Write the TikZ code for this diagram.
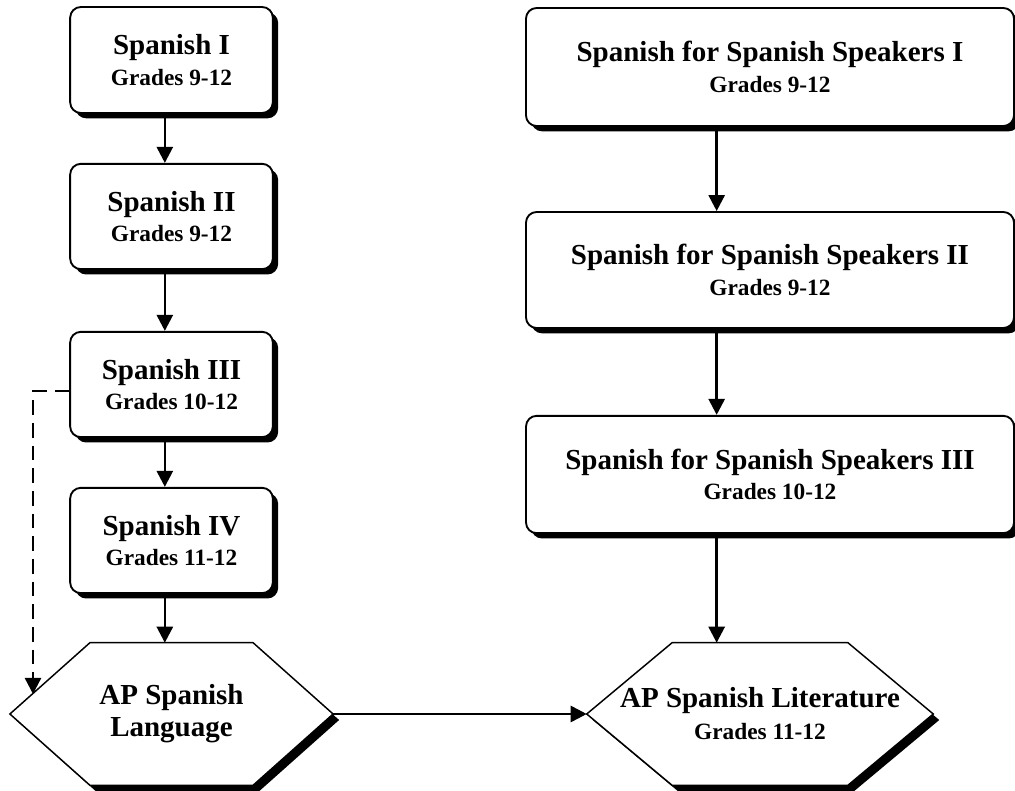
\documentclass[tikz,border=0pt]{standalone}
\usepackage{fontspec}
\setmainfont{Liberation Serif}
\usepackage{tikz}
\usetikzlibrary{arrows.meta}
\usetikzlibrary{shadows}
\usetikzlibrary{backgrounds}
\tikzstyle{course}=[rectangle, rounded corners=8pt, draw=black, line width=1.4pt, fill=white, align=center, font=\bfseries\fontsize{21.75}{23}\selectfont, drop shadow={shadow xshift=4pt, shadow yshift=-4pt, fill=black, opacity=1}]
\tikzstyle{apcourse}=[rectangle, align=center, minimum height=106.5pt, font=\bfseries\fontsize{21.75}{24}\selectfont]
\tikzstyle{hexline}=[draw=black, line width=1.1pt, fill=white]
\newcommand{\gradeline}[1]{{\fontsize{17.5}{20}\selectfont #1}}

\begin{document}
\begin{tikzpicture}[x=0.75pt, y=-0.75pt, >={Triangle[length=12pt,width=12pt]}]
	\useasboundingbox (0,0) rectangle (1015,791);
	% left column
	\node (s1) at (171.5,60) [course, minimum width=152pt, minimum height=79.5pt] {Spanish I\\\gradeline{Grades 9-12}};
	\node (s2) at (171.5,216.5) [course, minimum width=152pt, minimum height=79pt] {Spanish II\\\gradeline{Grades 9-12}};
	\node (s3) at (171.5,384.5) [course, minimum width=152pt, minimum height=79pt] {Spanish III\\\gradeline{Grades 10-12}};
	\node (s4) at (171.5,540.5) [course, minimum width=152pt, minimum height=79pt] {Spanish IV\\\gradeline{Grades 11-12}};
	\node (apl) at (171.5,714) [apcourse, minimum width=242pt] {AP Spanish\\Language};
	% right column
	\node (sss1) at (770,67) [course, minimum width=366pt, minimum height=88.5pt] {Spanish for Spanish Speakers I\\\gradeline{Grades 9-12}};
	\node (sss2) at (770,270) [course, minimum width=366pt, minimum height=87pt] {Spanish for Spanish Speakers II\\\gradeline{Grades 9-12}};
	\node (sss3) at (770,474.5) [course, minimum width=366pt, minimum height=88pt] {Spanish for Spanish Speakers III\\\gradeline{Grades 10-12}};
	\node (aplit) at (760,714) [apcourse, minimum width=259.5pt] {AP Spanish Literature\\\gradeline{Grades 11-12}};
	\coordinate (dashend) at (33,694);
	% hexagon outlines
	\begin{scope}[on background layer]
		\foreach \hx/\cut in {apl/60pt, aplit/64pt}{
			\begin{scope}[transform canvas={xshift=4.5pt, yshift=-4.5pt}]
				\fill[black] (\hx.west) -- ([xshift=\cut]\hx.north west) -- ([xshift=-\cut]\hx.north east) -- (\hx.east) -- ([xshift=-\cut]\hx.south east) -- ([xshift=\cut]\hx.south west) -- cycle;
			\end{scope}
			\path[hexline] (\hx.west) -- ([xshift=\cut]\hx.north west) -- ([xshift=-\cut]\hx.north east) -- (\hx.east) -- ([xshift=-\cut]\hx.south east) -- ([xshift=\cut]\hx.south west) -- cycle;
		}
	\end{scope}
	\path[->, line width=2pt]
		([xshift=-5pt]s1.south) edge ([xshift=-5pt]s2.north)
		([xshift=-5pt]s2.south) edge ([xshift=-5pt]s3.north)
		([xshift=-5pt]s3.south) edge ([xshift=-5pt]s4.north)
		([xshift=-5pt]s4.south) edge ([xshift=-5pt]s4.south |- apl.north)
		([xshift=-40pt]sss1.south) edge ([xshift=-40pt]sss2.north)
		([xshift=-40pt]sss2.south) edge ([xshift=-40pt]sss3.north)
		([xshift=-40pt]sss3.south) edge ([xshift=-40pt]sss3.south |- aplit.north)
		(apl.east) edge (aplit.west);
	\draw[->, line width=1.8pt, dash pattern=on 11pt off 6pt] ([yshift=-5pt]s3.west) -| (dashend);
\end{tikzpicture}
\end{document}
